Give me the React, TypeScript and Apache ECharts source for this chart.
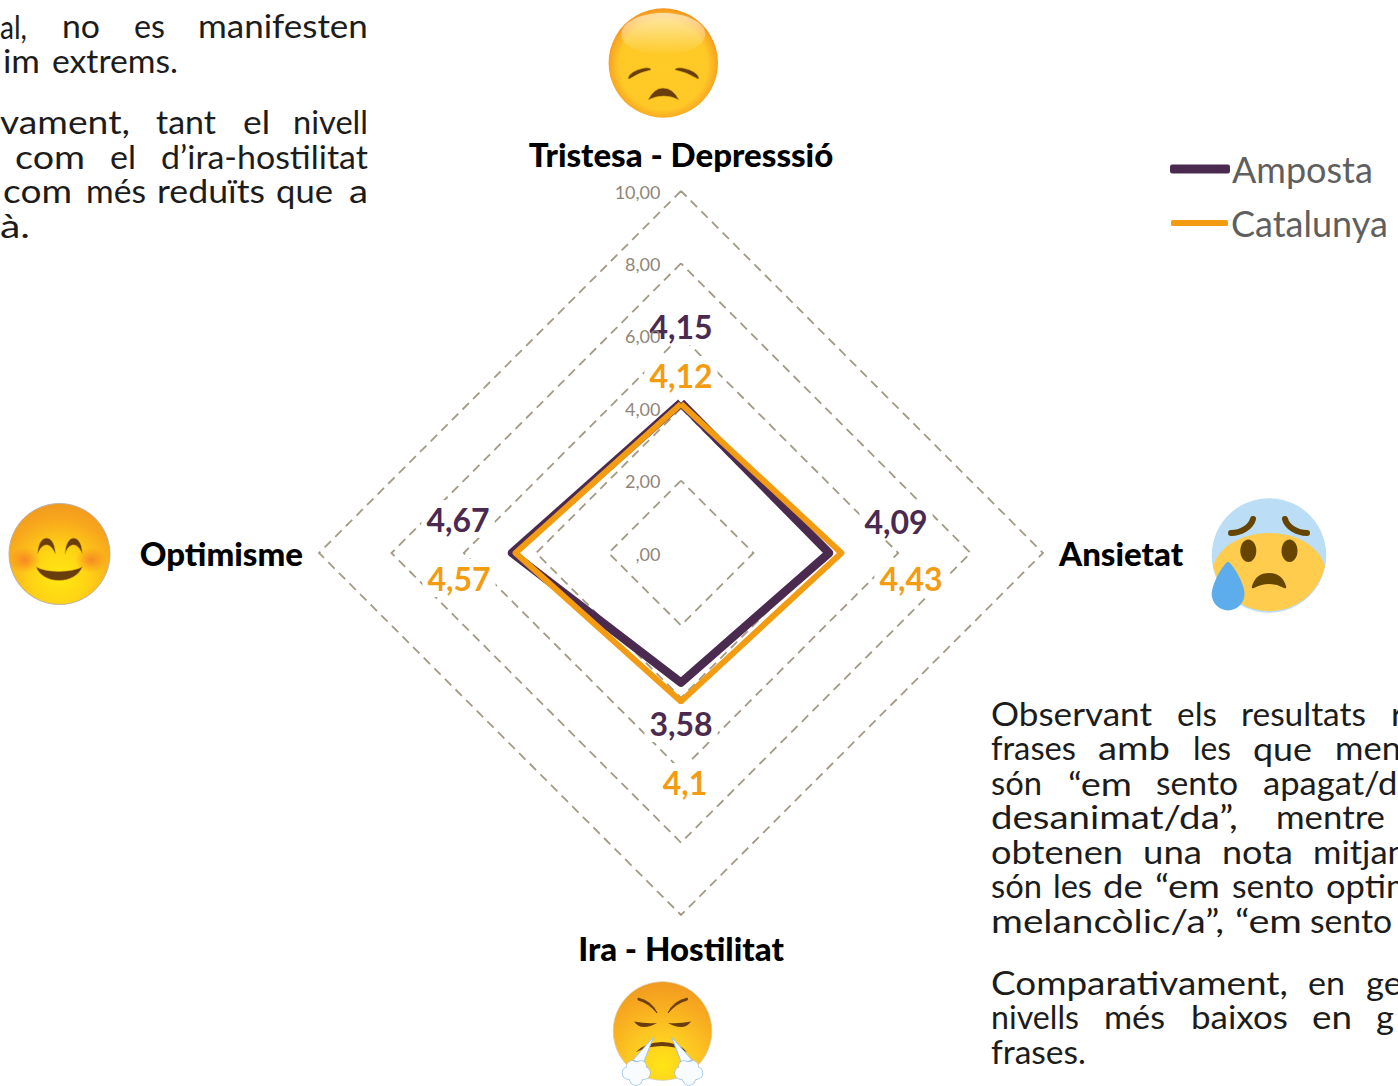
import React, { useEffect, useRef } from "react";
import * as echarts from "echarts";

// Order is counter-clockwise from the top, as ECharts radar lays indicators out.
const categories = ["Tristesa - Depresssió", "Optimisme", "Ira - Hostilitat", "Ansietat"];
const ampostaValues = [4.15, 4.67, 3.58, 4.09];
const catalunyaValues = [4.12, 4.57, 4.1, 4.43];
const tickLabels = [",00", "2,00", "4,00", "6,00", "8,00", "10,00"];
const tickValues = [0, 2, 4, 6, 8, 10];
const ampostaName = "Amposta";
const catalunyaName = "Catalunya";

const CX = 681, CY = 553, R = 362, MAX = 10;
const PURPLE = "#4b2a50", ORANGE = "#f39c12";

type W = [string, number, number | null];
type L = { b: number; w: W[] };
const paragraphLines: L[] = [
  { b: 38, w: [["al,", 0, 27], ["no", 62, 100], ["es", 134, 165], ["manifesten", 198, 368]] },
  { b: 73, w: [["im", 3, 40], ["extrems.", 52, 178]] },
  { b: 134, w: [["vament,", 0, 130], ["tant", 156, 216], ["el", 243, 270], ["nivell", 293, 368]] },
  { b: 169, w: [["com", 15, 85], ["el", 110, 136], ["d’ira-hostilitat", 161, 368]] },
  { b: 203, w: [["com", 3, 72], ["més", 86, 146], ["reduïts", 157, 265], ["que", 276, 333], ["a", 349, 368]] },
  { b: 238, w: [["à.", 0, 30]] },
  { b: 726, w: [["Observant", 991, 1152], ["els", 1177, 1217], ["resultats", 1241, 1366], ["r", 1391, null]] },
  { b: 760, w: [["frases", 991, 1076], ["amb", 1098, 1170], ["les", 1193, 1231], ["que", 1253, 1312], ["men", 1335, null]] },
  { b: 795, w: [["són", 991, 1042], ["“em", 1068, 1132], ["sento", 1156, 1238], ["apagat/d", 1263, null]] },
  { b: 829, w: [["desanimat/da”,", 991, 1238], ["mentre", 1276, 1385]] },
  { b: 864, w: [["obtenen", 991, 1123], ["una", 1143, 1202], ["nota", 1222, 1293], ["mitjan", 1313, null]] },
  { b: 898, w: [["són", 991, 1042], ["les", 1053, 1092], ["de", 1103, 1143], ["“em", 1155, 1220], ["sento", 1232, 1314], ["optim", 1326, null]] },
  { b: 933, w: [["melancòlic/a”,", 991, 1224], ["“em", 1235, 1302], ["sento", 1310, 1392]] },
  { b: 995, w: [["Comparativament,", 991, 1288], ["en", 1308, 1345], ["ge", 1366, null]] },
  { b: 1029, w: [["nivells", 991, 1079], ["més", 1104, 1165], ["baixos", 1191, 1288], ["en", 1312, 1352], ["g", 1376, null]] },
  { b: 1064, w: [["frases.", 991, 1086]] },
];

const fmt = (v: number) => String(v).replace(".", ",");
let measureCtx: CanvasRenderingContext2D | null = null;
const measure = (t: string, font: string) => {
  if (!measureCtx) measureCtx = document.createElement("canvas").getContext("2d");
  measureCtx!.font = font;
  return measureCtx!.measureText(t).width;
};

let shapeId = 0;
const shape = (d: string, style: any, z = 20) => {
  const name = "emojiShape" + shapeId++;
  echarts.graphic.registerShape(name, echarts.graphic.extendPath(d, {}));
  return { type: name, x: 0, y: 0, z, silent: true, style };
};
const circle = (cx: number, cy: number, r: number, style: any, z = 20) => ({ type: "circle", shape: { cx, cy, r }, style, z, silent: true });
const ellipse = (cx: number, cy: number, rx: number, ry: number, style: any, z = 20) => ({ type: "ellipse", shape: { cx, cy, rx, ry }, style, z, silent: true });
const radial = (x: number, y: number, r: number, stops: [number, string][]) =>
  new echarts.graphic.RadialGradient(x, y, r, stops.map(([offset, color]) => ({ offset, color })));
const linear = (stops: [number, string][]) =>
  new echarts.graphic.LinearGradient(0, 0, 0, 1, stops.map(([offset, color]) => ({ offset, color })));

const BROWN = "#6a3d0c";

function emojis() {
  const out: any[] = [];
  // pensive
  out.push(circle(663.3, 63, 54.7, { fill: radial(0.5, 0.52, 0.52, [[0, "#ffcb25"], [0.78, "#fec826"], [0.93, "#f9a922"], [1, "#f2921f"]]) }));
  out.push(ellipse(663.3, 34, 42, 21, { fill: linear([[0, "rgba(255,255,255,0.6)"], [0.55, "rgba(255,255,255,0.28)"], [1, "rgba(255,255,255,0)"]]) }));
  out.push(shape("M628 78 Q630 71 644 68 Q651 67 651 70 Q640 72 631 78 Q628 80 628 78Z", { fill: BROWN, stroke: "#d9ad12", lineWidth: 0.6 }));
  out.push(shape("M699 78 Q697 71 683 68 Q675 67 675 70 Q686 72 696 78 Q699 80 699 78Z", { fill: BROWN, stroke: "#d9ad12", lineWidth: 0.6 }));
  out.push(shape("M648 100 Q654 88 663 88 Q673 88 679 100 Q664 92 648 100Z", { fill: BROWN, stroke: "#d9ad12", lineWidth: 0.6 }));
  // anxious with sweat
  out.push(circle(1269, 555.5, 57.3, { fill: "#bbddf5" }));
  out.push(shape("M1213 566 A57.3 57.3 0 0 0 1325 566 C1318 545 1295 533 1269 533 C1243 533 1220 545 1213 566Z", { fill: "#ffcc4d" }));
  out.push(shape("M1231 533 C1241 533 1251 527 1253 519", { fill: "none", stroke: "#664500", lineWidth: 6, lineCap: "round" }));
  out.push(shape("M1307 533 C1297 533 1287 527 1285 519", { fill: "none", stroke: "#664500", lineWidth: 6, lineCap: "round" }));
  out.push(ellipse(1248.3, 550.7, 8, 11.3, { fill: "#664500" }));
  out.push(ellipse(1289.5, 550.7, 8, 11.3, { fill: "#664500" }));
  out.push(shape("M1252 586 Q1256 573 1269 573 Q1282 573 1286 586 Q1287 589 1284 588 Q1269 580 1254 588 Q1251 589 1252 586Z", { fill: "#664500" }));
  out.push(shape("M1228 561.7 C1232 563 1244.5 583 1244.5 594 A16.4 16.4 0 0 1 1211.7 594 C1211.7 583 1224 563 1228 561.7Z", { fill: "#5dadec" }));
  // smiling
  out.push(circle(59.5, 554, 50.5, { fill: radial(0.5, 0.72, 0.78, [[0, "#ffe811"], [0.35, "#ffd414"], [0.72, "#f8a81c"], [1, "#ef9420"]]), stroke: "#b9b2a6", lineWidth: 1 }));
  out.push(ellipse(25, 560, 16, 13, { fill: radial(0.5, 0.5, 0.5, [[0, "rgba(245,110,40,0.7)"], [1, "rgba(245,110,40,0)"]]) }));
  out.push(ellipse(91, 560, 16, 13, { fill: radial(0.5, 0.5, 0.5, [[0, "rgba(245,110,40,0.7)"], [1, "rgba(245,110,40,0)"]]) }));
  out.push(shape("M37.5 554 C38 543 42 538 46.5 538 C51 538 55 543 55.5 554 C52 547 49.5 545 46.5 545 C43.5 545 40.5 547 37.5 554Z", { fill: BROWN, stroke: "#e3b40f", lineWidth: 0.6 }));
  out.push(shape("M65 554 C65.5 543 69.5 538 73.5 538 C78 538 82 543 82.5 554 C79 547 76.5 545 73.5 545 C70.5 545 67.5 547 65 554Z", { fill: BROWN, stroke: "#e3b40f", lineWidth: 0.6 }));
  out.push(shape("M36 566.5 C45 573 72 573 82.5 566.5 C79 576 69 580.5 59 580.5 C49 580.5 39 576 36 566.5Z", { fill: BROWN, stroke: "#e3b40f", lineWidth: 0.6 }));
  // steaming
  out.push(circle(662.5, 1031, 49.3, { fill: radial(0.5, 0.85, 0.85, [[0, "#ffe516"], [0.4, "#fdc822"], [0.78, "#f7a91f"], [1, "#f09a20"]]), stroke: "#d9c9a8", lineWidth: 0.8 }));
  out.push(shape("M638 998 Q652 1001 657 1013 Q649 1003 638 1000Z", { fill: BROWN, stroke: BROWN, lineWidth: 0.8 }));
  out.push(shape("M687.5 998 Q673 1001 668 1013 Q676 1003 687.5 1000Z", { fill: BROWN, stroke: BROWN, lineWidth: 0.8 }));
  out.push(shape("M634 1021.5 Q646 1024 657 1023 Q650 1027 644 1027 Q638 1027 634 1021.5Z", { fill: BROWN }));
  out.push(shape("M691 1021.5 Q679 1024 668 1023 Q675 1027 681 1027 Q687 1027 691 1021.5Z", { fill: BROWN }));
  out.push(shape("M636 1052 Q646 1042 662 1042 Q678 1042 687 1052 Q675 1046 662 1046 Q648 1046 636 1052Z", { fill: BROWN }));
  const steam = { fill: "#f4faff", stroke: "#9cc3e8", lineWidth: 1 };
  out.push(shape("M653.5 1037 L633 1060 L643 1064Z", steam));
  out.push(shape("M671.5 1037 L692 1060 L682 1064Z", steam));
  const puffs = [[636, 1072, 10], [628.5, 1073, 6], [644, 1073, 6], [636, 1079, 6], [632, 1066, 5], [641, 1066, 5], [689, 1072, 10], [681, 1073, 6], [696.5, 1073, 6], [689, 1079, 6], [684, 1066, 5], [693, 1066, 5]];
  for (const [cx, cy, r] of puffs) out.push(circle(cx, cy, r, { fill: "#f8fcff", stroke: "#9cc3e8", lineWidth: 1.4 }, 21));
  for (const [cx, cy, r] of puffs) out.push(circle(cx, cy, r, { fill: "#f8fcff" }, 22));
  return out;
}

function paragraphs() {
  const fs = 32;
  const font = `400 ${fs}px Lato`;
  const out: any[] = [];
  for (const line of paragraphLines) {
    for (const [t, x0, x1] of line.w) {
      const sx = x1 == null ? 1.08 : (x1 - x0) / measure(t, font);
      out.push({
        type: "text", x: x0, y: line.b - 1 - fs * 0.35, scaleX: sx, silent: true, z: 15,
        style: { text: t, font, fill: "#1c1c1c", align: "left", verticalAlign: "middle" },
      });
    }
  }
  return out;
}

function tickText() {
  const fs = 18;
  const font = `400 ${fs}px Lato`;
  return tickLabels.map((t, i) => ({
    type: "text", x: 660.5, y: CY - (R * tickValues[i]) / MAX + 0.5, silent: true, z: 14,
    style: { text: t, font, fill: "#8f8579", align: "right", verticalAlign: "middle" },
  }));
}

function valueLabels() {
  const font = "700 32px Lato";
  const place = [
    { v: ampostaValues[0], c: PURPLE, x: 681, y: 326 },
    { v: catalunyaValues[0], c: ORANGE, x: 681, y: 375 },
    { v: ampostaValues[3], c: PURPLE, x: 896, y: 521 },
    { v: catalunyaValues[3], c: ORANGE, x: 911, y: 578 },
    { v: ampostaValues[2], c: PURPLE, x: 681, y: 723 },
    { v: catalunyaValues[2], c: ORANGE, x: 685, y: 782 },
    { v: ampostaValues[1], c: PURPLE, x: 458, y: 519 },
    { v: catalunyaValues[1], c: ORANGE, x: 459, y: 578 },
  ];
  return place.map((p) => ({
    type: "text", x: p.x, y: p.y, silent: true, z: 12,
    style: { text: fmt(p.v), font, fill: p.c, align: "center", verticalAlign: "middle", backgroundColor: "#ffffff", padding: [3, 5] },
  }));
}

const legendBase = (name: string, left: number, top: number, h: number, width: number, pad: number) => ({
  data: [name], orient: "horizontal", left, top, itemWidth: width, itemHeight: h, itemGap: 3,
  icon: "roundRect", selectedMode: false, padding: 0,
  textStyle: { fontFamily: "Lato", fontSize: 36, color: "#5f5f5f", padding: [0, 0, 0, pad] },
});

export default function App() {
  const ref = useRef<HTMLDivElement>(null);
  useEffect(() => {
    document.body.style.margin = "0";
    const chart = echarts.init(ref.current!, undefined, { renderer: "svg" });
    chart.setOption({
      animation: false,
      backgroundColor: "#ffffff",
      legend: [legendBase(ampostaName, 1170, 151, 9, 60, -3), legendBase(catalunyaName, 1171, 205, 6, 57, -2)],
      radar: {
        center: [CX, CY],
        radius: R,
        shape: "polygon",
        splitNumber: 5,
        startAngle: 90,
        nameGap: 16,
        axisName: { color: "#000000", fontFamily: "Lato", fontWeight: 900, fontSize: 33, padding: [0, 0, 5, 0] },
        indicator: categories.map((name) => ({ name, min: 0, max: MAX })),
        axisLine: { show: false },
        axisTick: { show: false },
        splitArea: { show: false },
        splitLine: { lineStyle: { color: "#a39a85", width: 1.8, type: [9, 6] } },
      },
      series: [
        {
          type: "radar",
          symbol: "none",
          z: 5,
          data: [
            { name: ampostaName, value: ampostaValues, lineStyle: { color: PURPLE, width: 8.5, join: "round" }, itemStyle: { color: PURPLE } },
            { name: catalunyaName, value: catalunyaValues, lineStyle: { color: ORANGE, width: 6, join: "round" }, itemStyle: { color: ORANGE } },
          ],
        },
      ],
      graphic: { elements: [...valueLabels(), ...tickText(), ...paragraphs(), ...emojis()] },
    });
    return () => chart.dispose();
  }, []);
  return <div ref={ref} style={{ position: "fixed", left: 0, top: 0, width: 1398, height: 1086, overflow: "hidden" }} />;
}
